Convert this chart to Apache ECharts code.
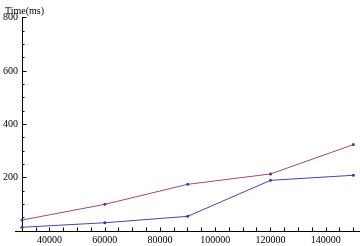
<!DOCTYPE html>
<html>
<head>
<meta charset="utf-8">
<script src="https://cdn.jsdelivr.net/npm/echarts@6/dist/echarts.min.js"></script>
<style>
html,body{margin:0;padding:0;background:#fff;}
#c{width:360px;height:246px;}
</style>
</head>
<body>
<div id="c"></div>
<script>
const xValues = [30000, 60000, 90000, 120000, 150000];
const seriesA = [14, 31, 55, 190, 209];
const seriesB = [41, 100, 175, 214, 324];
const xTickValues = [30000, 35000, 40000, 45000, 50000, 55000, 60000, 65000, 70000, 75000, 80000, 85000, 90000, 95000, 100000, 105000, 110000, 115000, 120000, 125000, 130000, 135000, 140000, 145000, 150000];
const xLabelValues = [40000, 60000, 80000, 100000, 120000, 140000];
const yLabelValues = [200, 400, 600, 800];
const yTitle = 'Time(ms)';

const font = 'Liberation Serif';
const chart = echarts.init(document.getElementById('c'), null, {renderer: 'canvas'});
const pair = (ys) => xValues.map((x, i) => [x, ys[i]]);
chart.setOption({
  animation: false,
  title: {
    text: yTitle, left: 0, top: 1,
    textStyle: {fontFamily: font, fontSize: 10, fontWeight: 'normal', color: '#000'}
  },
  grid: {left: 13.5, right: 0, top: 17.7, bottom: 15, containLabel: false},
  xAxis: {
    type: 'value', min: 27600, max: 152400,
    splitLine: {show: false},
    axisLine: {show: true, onZero: false, lineStyle: {color: '#000', width: 1}},
    axisTick: {show: true, inside: true, length: 3.5, customValues: xTickValues, lineStyle: {color: '#000'}},
    axisLabel: {customValues: xLabelValues, formatter: (v) => String(v), fontFamily: font, fontSize: 10, color: '#000', margin: 4}
  },
  yAxis: {
    type: 'value', min: 0, max: 800, interval: 200, offset: -6.66,
    splitLine: {show: false},
    axisLine: {show: true, onZero: false, lineStyle: {color: '#000', width: 1}},
    axisTick: {show: true, inside: true, length: 4.5, lineStyle: {color: '#000'}},
    minorTick: {show: true, splitNumber: 4, length: 2.5, lineStyle: {color: '#000'}},
    axisLabel: {customValues: yLabelValues, formatter: (v) => String(v), fontFamily: font, fontSize: 10, color: '#000', margin: 4}
  },
  series: [
    {
      type: 'line', data: pair(seriesA), symbol: 'circle', symbolSize: 3,
      lineStyle: {color: '#4646a6', width: 1},
      itemStyle: {color: '#3a3a9e'}
    },
    {
      type: 'line', data: pair(seriesB), symbol: 'circle', symbolSize: 3,
      lineStyle: {color: '#a3467a', width: 1},
      itemStyle: {color: '#3a3a9e'}
    }
  ]
});
</script>
</body>
</html>
